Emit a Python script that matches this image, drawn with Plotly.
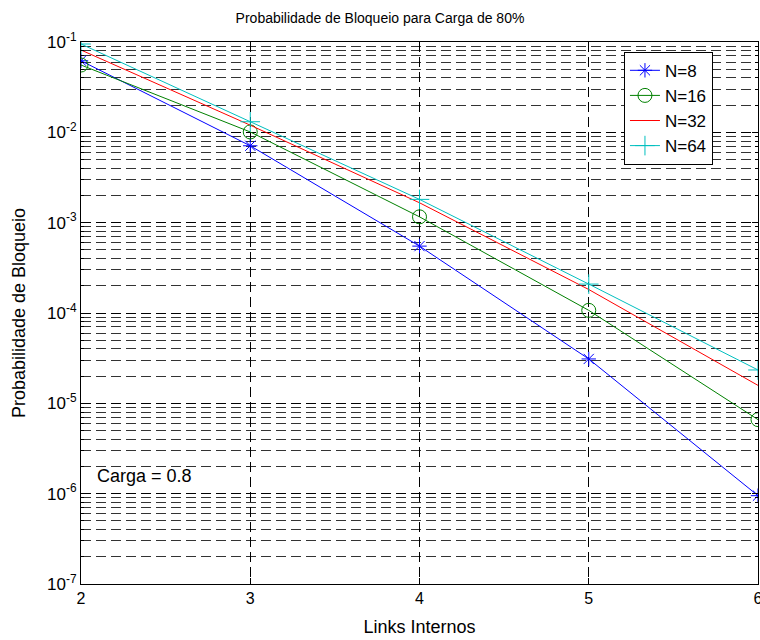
import plotly.graph_objects as go

# Blocking probability vs. number of internal links, load 80%
links = [2, 3, 4, 5, 6]
p_n8 = [0.062, 0.0071, 0.00055, 3.1e-5, 9.5e-7]
p_n16 = [0.0556, 0.0101, 0.00116, 0.000107, 6.6e-6]
p_n32 = [0.0815, 0.0120, 0.00166, 0.000182, 1.58e-5]
p_n64 = [0.095, 0.0131, 0.00181, 0.000209, 2.34e-5]

x_ticks = [2, 3, 4, 5, 6]
y_exps = [-7, -6, -5, -4, -3, -2, -1]

series = [
    ("N=8", p_n8, "#0000ff", "asterisk-open", 12),
    ("N=16", p_n16, "#008000", "circle-open", 14),
    ("N=32", p_n32, "#ff0000", None, 0),
    ("N=64", p_n64, "#00bfbf", "cross-thin-open", 14),
]

fig = go.Figure()
for name, vals, color, sym, size in series:
    if sym:
        fig.add_trace(go.Scatter(
            x=links, y=vals, name=name, mode="lines+markers",
            line=dict(color=color, width=1),
            marker=dict(symbol=sym, size=size, color=color,
                        line=dict(color=color, width=1)),
        ))
    else:
        fig.add_trace(go.Scatter(
            x=links, y=vals, name=name, mode="lines",
            line=dict(color=color, width=1),
        ))

y_major = [10.0 ** e for e in y_exps]
y_labels = ["10<sup>%d</sup>" % e for e in y_exps]
y_minor = [k * 10.0 ** e for e in y_exps[:-1] for k in range(2, 10)]

family = "Liberation Sans, Arial, sans-serif"
dash = "10px,5px"

fig.add_annotation(x=2.08, y=-5.8, xref="x", yref="y", text="Carga = 0.8",
                   showarrow=False, xanchor="left", yanchor="middle",
                   font=dict(family=family, size=18, color="black"))

fig.update_layout(
    width=760, height=640,
    margin=dict(l=81, r=2, t=42, b=56),
    paper_bgcolor="white", plot_bgcolor="white",
    font=dict(family=family, size=16, color="black"),
    title=dict(text="Probabilidade de Bloqueio para Carga de 80%",
               x=0.5, xanchor="center", y=1 - 18 / 640, yanchor="middle",
               font=dict(size=14, family=family)),
    showlegend=True,
    legend=dict(x=0.802, y=0.982, xanchor="left", yanchor="top",
                bgcolor="white", bordercolor="black", borderwidth=1,
                font=dict(size=17), tracegroupgap=0),
    xaxis=dict(
        range=[2, 6], tickvals=x_ticks, ticks="inside", ticklen=6,
        tickcolor="black", showline=True, linecolor="black", linewidth=1,
        mirror="ticks", showgrid=True, gridcolor="black", griddash=dash,
        gridwidth=1, zeroline=False, ticklabeloverflow="allow",
        automargin=False,
        title=dict(text="Links Internos", font=dict(size=18), standoff=14),
        tickfont=dict(size=16),
    ),
    yaxis=dict(
        type="log", range=[-7, -1], tickvals=y_major, ticktext=y_labels,
        ticks="inside", ticklen=6, tickcolor="black", showline=True,
        linecolor="black", linewidth=1, mirror="ticks", showgrid=True,
        gridcolor="black", griddash=dash, gridwidth=1, zeroline=False,
        ticklabeloverflow="allow", automargin=False,
        title=dict(text="Probabilidade de Bloqueio", font=dict(size=18),
                   standoff=16),
        tickfont=dict(size=17),
        minor=dict(tickvals=y_minor, ticks="inside", ticklen=3,
                   tickcolor="black", showgrid=True, gridcolor="#333333",
                   griddash=dash, gridwidth=1),
    ),
)

fig.write_html("out.html")
